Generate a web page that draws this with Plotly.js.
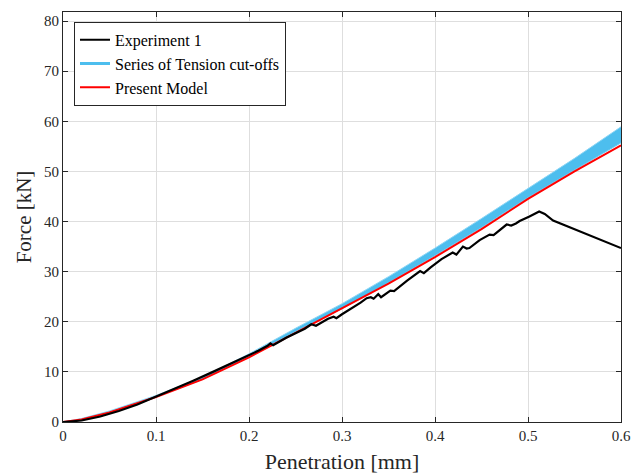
<!DOCTYPE html>
<html>
<head>
<meta charset="utf-8">
<script src="https://cdn.plot.ly/plotly-3.0.1.min.js"></script>
<style>html,body{margin:0;padding:0;background:#fff;}#chart{width:641px;height:475px;}</style>
</head>
<body>
<div id="chart"></div>
<script>
// Experiment 1 (black)
const expX = [0, 0.02, 0.04, 0.06, 0.08, 0.10, 0.12, 0.14, 0.16, 0.18, 0.20, 0.21, 0.22, 0.223, 0.226, 0.24, 0.26, 0.267, 0.272, 0.285, 0.291, 0.294, 0.30, 0.31, 0.32, 0.3265, 0.331, 0.334, 0.339, 0.342, 0.352, 0.356, 0.37, 0.384, 0.388, 0.395, 0.407, 0.419, 0.423, 0.430, 0.434, 0.437, 0.448, 0.4587, 0.463, 0.477, 0.482, 0.487, 0.491, 0.5016, 0.507, 0.512, 0.518, 0.527, 0.60];
const expY = [0, 0.3, 1.1, 2.2, 3.5, 5.06, 6.6, 8.25, 9.9, 11.6, 13.3, 14.2, 15.2, 15.7, 15.3, 16.8, 18.6, 19.5, 19.2, 20.6, 21.0, 20.7, 21.5, 22.6, 23.8, 24.7, 24.9, 24.6, 25.5, 24.9, 26.2, 26.1, 28.2, 30.1, 29.7, 30.8, 32.5, 33.8, 33.4, 35.0, 34.6, 34.7, 36.3, 37.4, 37.3, 39.4, 39.2, 39.6, 40.1, 41.0, 41.6, 42.0, 41.5, 40.2, 34.7];

// Present Model (red)
const modelX = [0, 0.02, 0.05, 0.10, 0.15, 0.20, 0.25, 0.30, 0.35, 0.40, 0.45, 0.50, 0.55, 0.60];
const modelY = [0, 0.5, 1.9, 5.0, 8.5, 12.9, 17.8, 22.7, 27.6, 32.9, 38.5, 44.5, 50.0, 55.2];

// Series of Tension cut-offs (cyan band envelope)
const bandX = [0, 0.02, 0.05, 0.10, 0.15, 0.20, 0.25, 0.30, 0.35, 0.40, 0.45, 0.50, 0.55, 0.60];
const bandLow = [0, 0.5, 1.9, 5.0, 8.5, 13.0, 18.0, 22.6, 27.8, 33.2, 38.8, 44.8, 50.3, 55.7];
const bandHigh = [0, 0.7, 2.2, 5.3, 8.9, 13.6, 18.7, 23.6, 29.0, 34.7, 40.6, 46.6, 52.6, 58.9];

const seriesNames = ['Experiment 1', 'Series of Tension cut-offs', 'Present Model'];
const cyan = '#4DBEEE';
const serif = 'Liberation Serif, serif';

const traces = [
  {x: bandX, y: bandLow, mode: 'lines', line: {color: '#6cc9f0', width: 1}, showlegend: false, hoverinfo: 'skip'},
  {x: bandX, y: bandHigh, mode: 'lines', line: {color: '#8fd6f5', width: 1}, fill: 'tonexty', fillcolor: cyan, showlegend: false, hoverinfo: 'skip'},
  {x: [null], y: [null], mode: 'lines', name: seriesNames[1], line: {color: cyan, width: 3}, legendrank: 2},
  {x: modelX, y: modelY, mode: 'lines', name: seriesNames[2], line: {color: '#ff0000', width: 2}, legendrank: 3},
  {x: expX, y: expY, mode: 'lines', name: seriesNames[0], line: {color: '#000000', width: 2.2}, legendrank: 1}
];

const axisCommon = {
  showline: true, linecolor: '#262626', linewidth: 1, mirror: 'ticks',
  ticks: 'inside', ticklen: 5, tickcolor: '#262626', tickwidth: 1,
  showgrid: true, gridcolor: '#dedede', gridwidth: 1, zeroline: false,
  tickfont: {family: serif, size: 15, color: '#262626'}
};

const layout = {
  width: 641, height: 475,
  margin: {l: 63, r: 20, t: 12, b: 53},
  paper_bgcolor: '#ffffff', plot_bgcolor: '#ffffff',
  xaxis: Object.assign({}, axisCommon, {
    range: [0, 0.6], tickvals: [0, 0.1, 0.2, 0.3, 0.4, 0.5, 0.6], ticktext: ['0', '0.1', '0.2', '0.3', '0.4', '0.5', '0.6'],
    title: {text: 'Penetration [mm]', font: {family: serif, size: 22, color: '#262626'}, standoff: 10}
  }),
  yaxis: Object.assign({}, axisCommon, {
    range: [0, 81.8], tickvals: [0, 10, 20, 30, 40, 50, 60, 70, 80],
    title: {text: 'Force [kN]', font: {family: serif, size: 21, color: '#262626'}, standoff: 6}
  }),
  legend: {
    x: 0.0197, y: 0.976, xanchor: 'left', yanchor: 'top', traceorder: 'normal',
    bgcolor: '#ffffff', bordercolor: '#262626', borderwidth: 1,
    font: {family: serif, size: 16, color: '#000000'},
    tracegroupgap: 0, itemwidth: 30
  },
  showlegend: true
};

Plotly.newPlot('chart', traces, layout, {displayModeBar: false, staticPlot: true});
</script>
</body>
</html>
